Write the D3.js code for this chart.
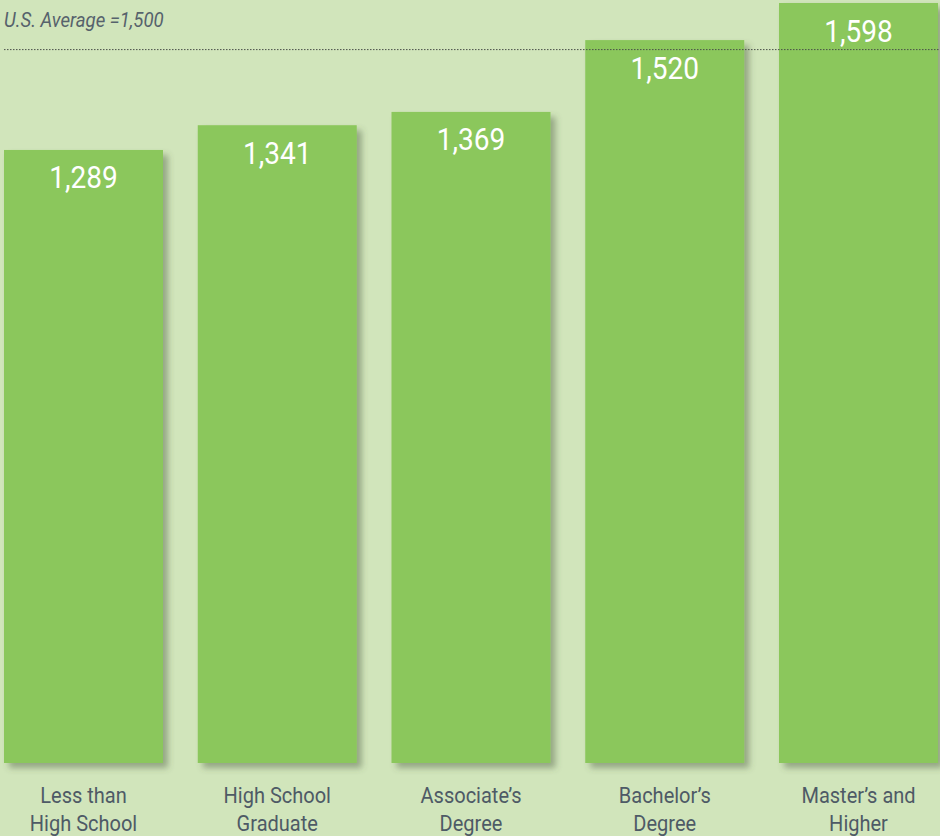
<!DOCTYPE html>
<html>
<head>
<meta charset="utf-8">
<script src="https://cdn.jsdelivr.net/npm/d3@7"></script>
<style>
  html, body { margin: 0; padding: 0; background: #d1e5bb; }
  svg { display: block; }
</style>
</head>
<body>
<svg id="chart" width="940" height="836"></svg>
<script>
// ---- data ----
const categories = [
  ["Less than", "High School"],
  ["High School", "Graduate"],
  ["Associate\u2019s", "Degree"],
  ["Bachelor\u2019s", "Degree"],
  ["Master\u2019s and", "Higher"]
];
const values = [1289, 1341, 1369, 1520, 1598];
const averageValue = 1500;
const averageLabel = "U.S. Average =1,500";

// ---- layout ----
const W = 940, H = 836;
const svg = d3.select("#chart");
const bg = "#d1e5bb", barColor = "#8bc75b", textGray = "#4e5a66";
const FONT = "Roboto, 'Liberation Sans', sans-serif";

svg.append("rect").attr("width", W).attr("height", H).attr("fill", bg);

const defs = svg.append("defs");
const f = defs.append("filter").attr("id", "shadow")
  .attr("x", "-10%").attr("y", "-10%").attr("width", "130%").attr("height", "130%");
f.append("feDropShadow").attr("dx", 5).attr("dy", 5).attr("stdDeviation", 3)
  .attr("flood-color", "#4b5a40").attr("flood-opacity", 0.45);

const keys = categories.map(c => c.join(" "));
const x = d3.scaleBand().domain(keys).range([4, 938]).paddingInner(0.1794).paddingOuter(0);
const y = d3.scaleLinear().domain([0, 1598]).range([763, 3]);

const data = keys.map((k, i) => ({ key: k, lines: categories[i], value: values[i] }));
const cx = d => x(d.key) + x.bandwidth() / 2;

// bars
svg.append("g").selectAll("rect").data(data).join("rect")
  .attr("x", d => x(d.key))
  .attr("y", d => y(d.value))
  .attr("width", x.bandwidth())
  .attr("height", d => y(0) - y(d.value))
  .attr("fill", barColor)
  .attr("filter", "url(#shadow)");

// value labels (condensed look via horizontal scale)
svg.append("g").selectAll("text").data(data).join("text")
  .attr("transform", d => `translate(${cx(d)},${y(d.value) + 38.5}) scale(0.92,1)`)
  .attr("text-anchor", "middle")
  .attr("font-family", FONT)
  .attr("font-size", 30.5)
  .attr("fill", "#ffffff")
  .text(d => d3.format(",")(d.value));

// average line
svg.append("line")
  .attr("x1", 4).attr("x2", W)
  .attr("y1", y(averageValue)).attr("y2", y(averageValue))
  .attr("stroke", "#4a4f4a").attr("stroke-width", 1)
  .attr("stroke-dasharray", "1.5,1.5");

svg.append("text")
  .attr("transform", "translate(4,26.5) scale(0.93,1)")
  .attr("font-family", FONT)
  .attr("font-style", "italic")
  .attr("font-size", 20)
  .attr("fill", "#56626c")
  .text(averageLabel);

// category labels
const cat = svg.append("g").selectAll("g").data(data).join("g");
cat.selectAll("text").data(d => d.lines.map((l, i) => ({ l, i, c: cx(d) })))
  .join("text")
  .attr("transform", t => `translate(${t.c},${803 + t.i * 27.5}) scale(0.89,1)`)
  .attr("text-anchor", "middle")
  .attr("font-family", FONT)
  .attr("font-size", 22.5)
  .attr("fill", textGray)
  .text(t => t.l);
</script>
</body>
</html>
